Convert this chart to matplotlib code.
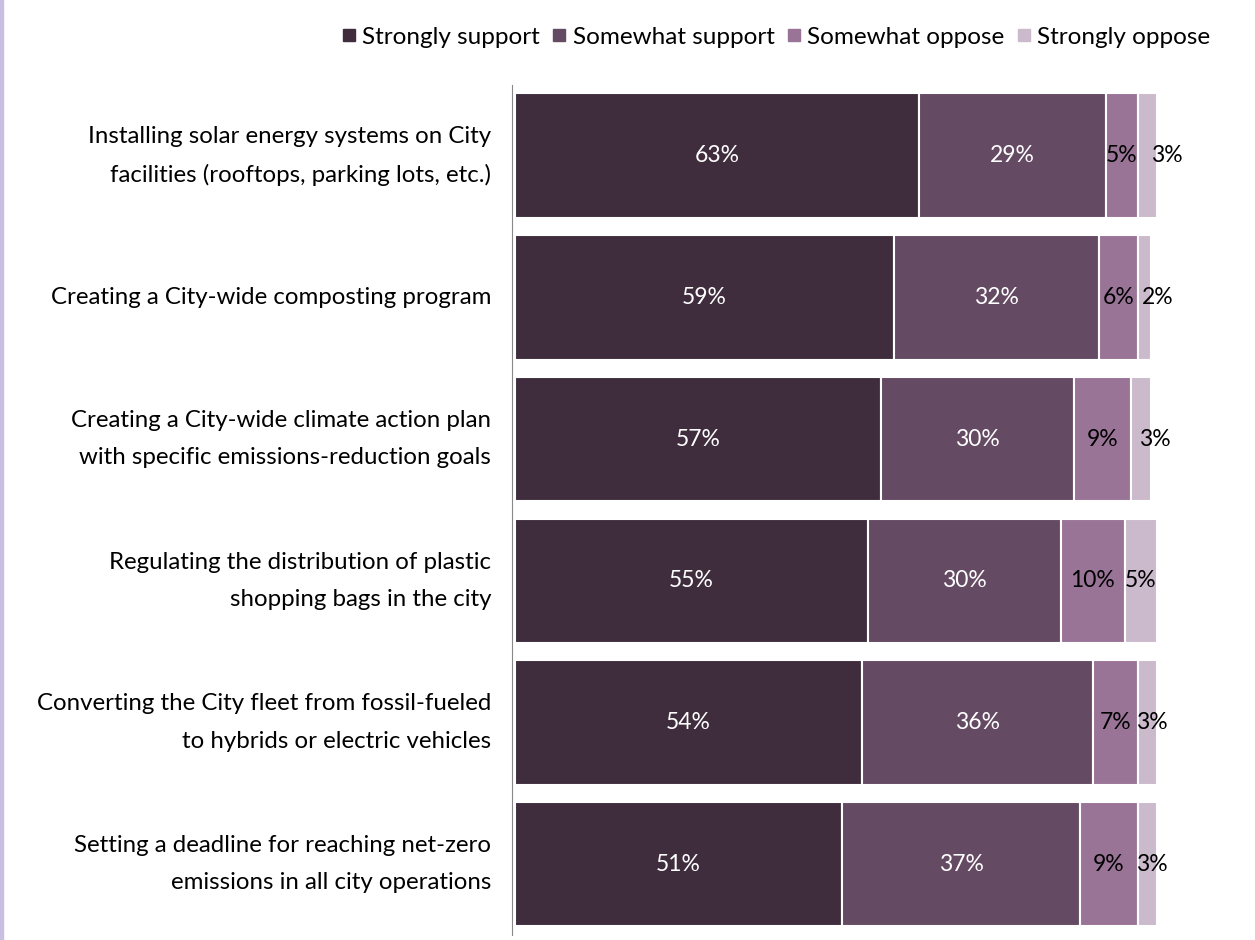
import matplotlib.pyplot as plt
from matplotlib.patches import Rectangle
from matplotlib.lines import Line2D

plt.rcParams['font.family'] = ['Lato', 'DejaVu Sans']

categories = [
    "Installing solar energy systems on City\nfacilities (rooftops, parking lots, etc.)",
    "Creating a City-wide composting program",
    "Creating a City-wide climate action plan\nwith specific emissions-reduction goals",
    "Regulating the distribution of plastic\nshopping bags in the city",
    "Converting the City fleet from fossil-fueled\nto hybrids or electric vehicles",
    "Setting a deadline for reaching net-zero\nemissions in all city operations",
]
strongly_support = [63, 59, 57, 55, 54, 51]
somewhat_support = [29, 32, 30, 30, 36, 37]
somewhat_oppose = [5, 6, 9, 10, 7, 9]
strongly_oppose = [3, 2, 3, 5, 3, 3]

series = [strongly_support, somewhat_support, somewhat_oppose, strongly_oppose]
series_names = ["Strongly support", "Somewhat support", "Somewhat oppose", "Strongly oppose"]
colors = ["#3f2d3e", "#654a64", "#9a7497", "#cbb9cc"]
text_colors = ["white", "white", "black", "black"]
# nudge for the thin last segment labels (points)
oppose_nudge = [14, 10, 10, 0, 3, 3]

fig = plt.figure(figsize=(12.55, 9.4), dpi=100)
ax = fig.add_axes([515 / 1255, 5 / 940, 642 / 1255, 850 / 940])

y = list(range(len(categories)))
left = [0] * len(categories)
for k, (vals, name, col) in enumerate(zip(series, series_names, colors)):
    ax.barh(y, vals, left=left, height=0.88, color=col, edgecolor="white",
            linewidth=1.5, label=name)
    for i, v in enumerate(vals):
        dx = oppose_nudge[i] if k == 3 else 0
        ax.annotate(f"{v}%", (left[i] + v / 2, i), xytext=(dx, 0),
                    textcoords="offset points", ha="center", va="center",
                    color=text_colors[k], fontsize=16.5)
    left = [a + b for a, b in zip(left, vals)]

ax.set_xlim(0, 100)
ax.set_ylim(len(categories) - 0.5, -0.5)
ax.set_yticks(y)
ax.set_yticklabels([])
ax.tick_params(axis="y", length=0)
# category names, right-aligned left of the axis line
for i, cat in enumerate(categories):
    ax.text(-0.037, i, cat, transform=ax.get_yaxis_transform(), ha="right",
            va="center", fontsize=17.3, linespacing=1.95)
ax.set_xticks([])
for s in ["top", "right", "bottom"]:
    ax.spines[s].set_visible(False)
ax.spines["left"].set_color("#888888")
ax.spines["left"].set_position(("outward", 2))

handles = [Line2D([], [], marker="s", linestyle="none", markersize=8,
                  markerfacecolor=c, markeredgecolor=c) for c in colors]
fig.legend(handles, series_names, loc="upper right", bbox_to_anchor=(0.982, 0.995),
           ncol=4, frameon=False, fontsize=17.5, handletextpad=0.2,
           columnspacing=0.45, handlelength=0.7)

# thin lavender edge along the left side
fig.patches.append(Rectangle((0, 0), 3 / 1255, 1, transform=fig.transFigure,
                             color="#c9bfe0", zorder=5))

fig.savefig("out.png", dpi=100)
